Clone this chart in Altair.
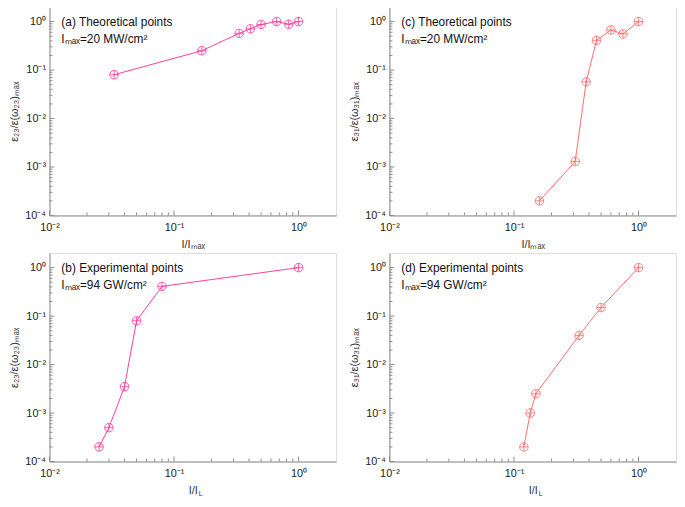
import altair as alt
import pandas as pd

# ---- data ----
a_x = [0.033, 0.167, 0.333, 0.41, 0.5, 0.667, 0.833, 1.0]
a_y = [0.08, 0.25, 0.57, 0.71, 0.87, 1.0, 0.88, 1.0]

c_x = [0.16, 0.31, 0.38, 0.46, 0.6, 0.75, 1.0]
c_y = [2e-4, 1.3e-3, 0.057, 0.41, 0.67, 0.555, 1.0]

b_x = [0.025, 0.03, 0.04, 0.05, 0.08, 1.0]
b_y = [2e-4, 5e-4, 3.5e-3, 0.08, 0.41, 1.0]

d_x = [0.12, 0.135, 0.15, 0.333, 0.5, 1.0]
d_y = [2e-4, 1e-3, 2.5e-3, 0.04, 0.15, 1.0]

x_major = [0.01, 0.1, 1.0]
x_minor = [0.02, 0.03, 0.04, 0.05, 0.06, 0.07, 0.08, 0.09,
           0.2, 0.3, 0.4, 0.5, 0.6, 0.7, 0.8, 0.9]
y_major = [1e-4, 1e-3, 1e-2, 1e-1, 1.0]
y_minor = [m * 10.0 ** e for e in range(-4, 0) for m in range(2, 10)]

W, H = 290, 211
FONT = "Liberation Sans"
AXC = "#8c8c8c"
PINK = "#ff3d9e"
RED = "#ff6e6e"

MARKER = "M-1,0A1,1,0,1,1,1,0A1,1,0,1,1,-1,0Z M-1,0L1,0 M0,-1L0,1"

xs = alt.Scale(type="log", domain=[0.01, 2], nice=False)
ys = alt.Scale(type="log", domain=[1e-4, 2], nice=False)

XLAB = "['10⁻²','10⁻¹','10⁰'][round(log(datum.value)/LN10)+2]"
YLAB = "['10⁻⁴','10⁻³','10⁻²','10⁻¹','10⁰'][round(log(datum.value)/LN10)+4]"


def panel(x, y, color, line1, line2, ytitle, xtitle, xsub=None):
    df = pd.DataFrame({"x": x, "y": y})
    xaxis = alt.Axis(values=x_major, labelExpr=XLAB, ticks=False, grid=False,
                     domainColor=AXC, labelPadding=6, labelFontSize=11,
                     labelFont=FONT, labelColor="#222", title=xtitle,
                     labelFlush=False, labelOverlap=False,
                     titleFont=FONT, titleFontSize=11, titleFontWeight="normal",
                     titleColor="#333", titlePadding=6)
    yaxis = alt.Axis(values=y_major, labelExpr=YLAB, ticks=False, grid=False,
                     domainColor=AXC, labelPadding=4, labelFontSize=11,
                     labelFont=FONT, labelColor="#222", title=ytitle,
                     labelFlush=False, labelOverlap=False,
                     titleFont=FONT, titleFontSize=11, titleFontWeight="normal",
                     titleColor="#333", titleX=-35, titleY=H / 2, titleAngle=270,
                     titleAlign="center", titleBaseline="middle",
                     minExtent=30, maxExtent=30)
    base = alt.Chart(df)
    line = base.mark_line(color=color, strokeWidth=1).encode(
        x=alt.X("x:Q", scale=xs, axis=xaxis),
        y=alt.Y("y:Q", scale=ys, axis=yaxis),
    )
    pts = base.mark_point(shape=MARKER, size=75, filled=False, color=color,
                          strokeWidth=1, opacity=0.85).encode(
        x=alt.X("x:Q", scale=xs), y=alt.Y("y:Q", scale=ys))

    xmaj = alt.Chart(pd.DataFrame({"x": x_major})).mark_rule(color=AXC, strokeWidth=1).encode(
        x=alt.X("x:Q", scale=xs), y=alt.value(H), y2=alt.value(H - 5))
    xmin = alt.Chart(pd.DataFrame({"x": x_minor})).mark_rule(color=AXC, strokeWidth=1).encode(
        x=alt.X("x:Q", scale=xs), y=alt.value(H), y2=alt.value(H - 3))
    ymaj = alt.Chart(pd.DataFrame({"y": y_major})).mark_rule(color=AXC, strokeWidth=1).encode(
        y=alt.Y("y:Q", scale=ys), x=alt.value(0), x2=alt.value(5))
    ymin = alt.Chart(pd.DataFrame({"y": y_minor})).mark_rule(color=AXC, strokeWidth=1).encode(
        y=alt.Y("y:Q", scale=ys), x=alt.value(0), x2=alt.value(3))

    t1 = alt.Chart(pd.DataFrame({"t": [line1]})).mark_text(
        align="left", baseline="middle", font=FONT, fontSize=12, color="#111").encode(
        text="t:N", x=alt.value(12), y=alt.value(15))
    t2 = alt.Chart(pd.DataFrame({"t": [line2]})).mark_text(
        align="left", baseline="middle", font=FONT, fontSize=12, color="#111").encode(
        text="t:N", x=alt.value(12), y=alt.value(32))
    layers = [xmin, xmaj, ymin, ymaj, line, pts, t1, t2]
    if xsub is not None:
        ts = alt.Chart(pd.DataFrame({"t": [xsub]})).mark_text(
            align="left", baseline="middle", font=FONT, fontSize=7, color="#333").encode(
            text="t:N", x=alt.value(W / 2 + 6), y=alt.value(H + 33))
        layers += [ts]
    return alt.layer(*layers).properties(width=W, height=H)


pa = panel(a_x, a_y, PINK, "(a) Theoretical points", "Iₘₐₓ=20 MW/cm²",
           "ε₂₃/ε(ω₂₃)ₘₐₓ", "I/Iₘₐₓ")
pc = panel(c_x, c_y, RED, "(c) Theoretical points", "Iₘₐₓ=20 MW/cm²",
           "ε₃₁/ε(ω₃₁)ₘₐₓ", "I/Iₘₐₓ")
pb = panel(b_x, b_y, PINK, "(b) Experimental points", "Iₘₐₓ=94 GW/cm²",
           "ε₂₃/ε(ω₂₃)ₘₐₓ", "I/I ", "L")
pd_ = panel(d_x, d_y, RED, "(d) Experimental points", "Iₘₐₓ=94 GW/cm²",
            "ε₃₁/ε(ω₃₁)ₘₐₓ", "I/I ", "L")

chart = alt.concat(
    pa, pc, pb, pd_, columns=2, bounds="flush", align="all",
    spacing=alt.RowColnumber(row=38, column=54),
).properties(padding={"top": -5, "left": 0, "right": 0, "bottom": 0}
             ).configure_view(stroke=None).configure(background="white")

chart.save("out.html", embed_options={"renderer": "svg", "actions": False})
